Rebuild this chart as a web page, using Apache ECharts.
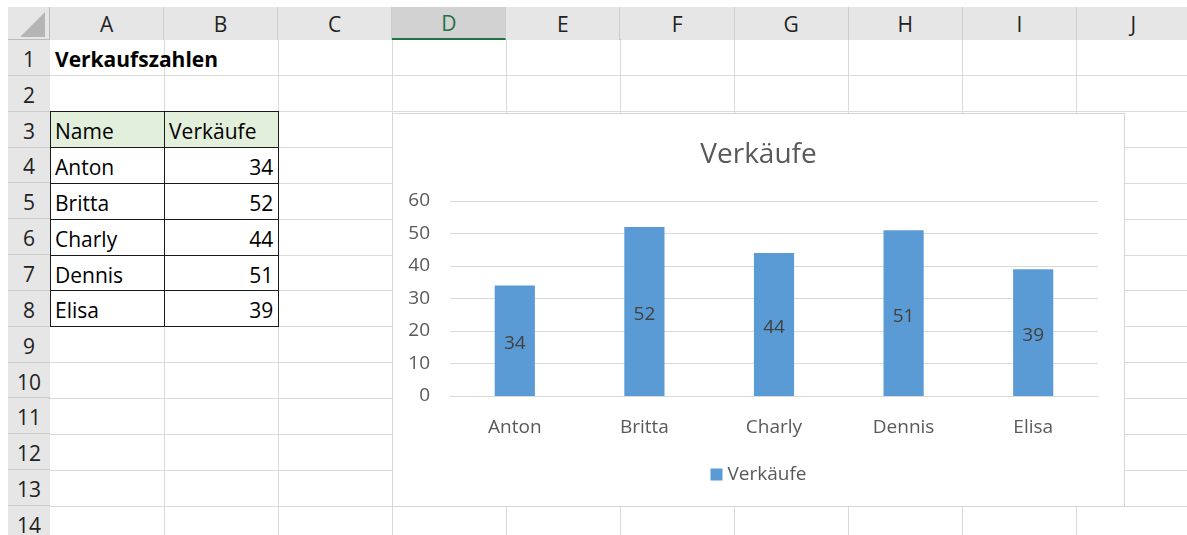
<!DOCTYPE html>
<html>
<head>
<meta charset="utf-8">
<script src="https://cdn.jsdelivr.net/npm/echarts@6/dist/echarts.min.js"></script>
<style>
  html, body { margin: 0; padding: 0; background: #fff; }
  #sheet { position: relative; width: 1187px; height: 535px; overflow: hidden; font-family: "Open Sans", sans-serif; }
  .abs { position: absolute; box-sizing: border-box; }
  .hdr { background: #e6e6e6; color: #222; font-size: 21px; display: flex; align-items: center; justify-content: center; }
  .cell { font-size: 21px; color: #000; display: flex; align-items: center; white-space: nowrap; padding-top: 3px; }
  #chart { position: absolute; left: 392px; top: 113px; width: 733px; height: 394px; background: #fff; border: 1px solid #d6d6d6; box-sizing: border-box; z-index: 10; }
</style>
</head>
<body>
<div id="sheet">
  <div id="chart"></div>
</div>
<script>
// table / chart data
var names = ['Anton', 'Britta', 'Charly', 'Dennis', 'Elisa'];
var sales = [34, 52, 44, 51, 39];
var seriesName = 'Verkäufe';
var sheetTitle = 'Verkaufszahlen';
var colLetters = ['A', 'B', 'C', 'D', 'E', 'F', 'G', 'H', 'I', 'J'];
var rowCount = 14;

// sheet geometry
var colW = 114.1, rowH = 35.85, gridX = 50, gridY = 40;
var sheet = document.getElementById('sheet');

function box(x, y, w, h, cls, css, text) {
    var d = document.createElement('div');
    d.className = 'abs ' + (cls || '');
    d.style.left = x + 'px';
    d.style.top = y + 'px';
    d.style.width = w + 'px';
    d.style.height = h + 'px';
    if (css) d.style.cssText += css;
    if (text !== undefined) d.textContent = text;
    sheet.insertBefore(d, document.getElementById('chart'));
    return d;
}
function cx(c) { return gridX + c * colW; }
function ry(r) { return gridY + r * rowH; }

// light grid lines
for (var c = 1; c <= colLetters.length; c++) {
    box(cx(c) - 0.5, gridY, 1, 535 - gridY, '', 'background:#dadada;');
}
for (var r = 1; r <= rowCount; r++) {
    box(gridX, ry(r) - 0.5, 1187 - gridX, 1, '', 'background:#dadada;');
}

// header fill for table
box(cx(0), ry(2), colW * 2, rowH, '', 'background:#e2efda;');

// column headers
box(8, 7, 1187 - 8, gridY - 7, '', 'background:#e6e6e6;border-bottom:1px solid #bcbcbc;');
colLetters.forEach(function (l, i) {
    var sel = l === 'D';
    box(cx(i), 7, colW, gridY - 7, 'hdr',
        'border-right:1px solid #cdcdcd;' + (sel ? 'background:#d2d2d2;color:#217346;border-bottom:2px solid #217346;' : ''), l);
});

// row headers
box(8, gridY, gridX - 8, 535 - gridY, '', 'background:#e6e6e6;border-right:1px solid #bcbcbc;');
for (var r = 0; r < rowCount; r++) {
    box(8, ry(r), gridX - 8, rowH, 'hdr', 'border-bottom:1px solid #cdcdcd;padding-top:3px;', String(r + 1));
}

// corner with triangle
box(8, 7, gridX - 8, gridY - 7, '', 'background:#e6e6e6;border-right:1px solid #bcbcbc;border-bottom:1px solid #bcbcbc;');
box(20, 12, 25, 25, '', 'background:#b5b5b5;clip-path:polygon(100% 0,100% 100%,0 100%);');

// cell contents
box(cx(0) + 5, ry(0), 250, rowH, 'cell', 'font-weight:bold;', sheetTitle);
box(cx(0) + 5, ry(2), colW - 5, rowH, 'cell', '', 'Name');
box(cx(1) + 5, ry(2), colW - 5, rowH, 'cell', '', seriesName);
names.forEach(function (n, i) {
    box(cx(0) + 5, ry(3 + i), colW - 5, rowH, 'cell', '', n);
    box(cx(1), ry(3 + i), colW - 5, rowH, 'cell', 'justify-content:flex-end;', String(sales[i]));
});

// table borders
for (var r = 2; r <= 3 + names.length; r++) {
    box(cx(0), ry(r) - 0.5, colW * 2 + 1, 1, '', 'background:#1a1a1a;');
}
for (var c = 0; c <= 2; c++) {
    box(cx(c) - 0.5, ry(2), 1, rowH * (names.length + 1), '', 'background:#1a1a1a;');
}

// chart
var font = '"Open Sans", sans-serif';
var myChart = echarts.init(document.getElementById('chart'));
var option = {
    animation: false,
    title: {
        text: seriesName,
        left: 'center',
        top: 22,
        textStyle: { fontFamily: font, fontSize: 28, fontWeight: 'normal', color: '#595959' }
    },
    legend: {
        data: [seriesName],
        left: 'center',
        top: 346,
        icon: 'rect',
        itemWidth: 12,
        itemHeight: 12,
        textStyle: { fontFamily: font, fontSize: 19, color: '#595959' }
    },
    grid: { left: 57, right: 26, top: 87, bottom: 110 },
    xAxis: {
        type: 'category',
        data: names,
        axisLine: { lineStyle: { color: '#d9d9d9' } },
        axisTick: { show: false },
        axisLabel: { fontFamily: font, fontSize: 19, color: '#595959', margin: 22 }
    },
    yAxis: {
        type: 'value',
        min: 0,
        max: 60,
        interval: 10,
        axisLine: { show: false },
        axisTick: { show: false },
        axisLabel: { fontFamily: font, fontSize: 19, color: '#595959', margin: 20, padding: [6, 0, 0, 0] },
        splitLine: { lineStyle: { color: '#d9d9d9' } }
    },
    series: [{
        type: 'bar',
        name: seriesName,
        data: sales,
        barWidth: '31%',
        itemStyle: { color: '#5b9bd5' },
        label: { show: true, position: 'inside', offset: [0, 3], fontFamily: font, fontSize: 19, color: '#404040' }
    }]
};
myChart.setOption(option);
</script>
</body>
</html>
